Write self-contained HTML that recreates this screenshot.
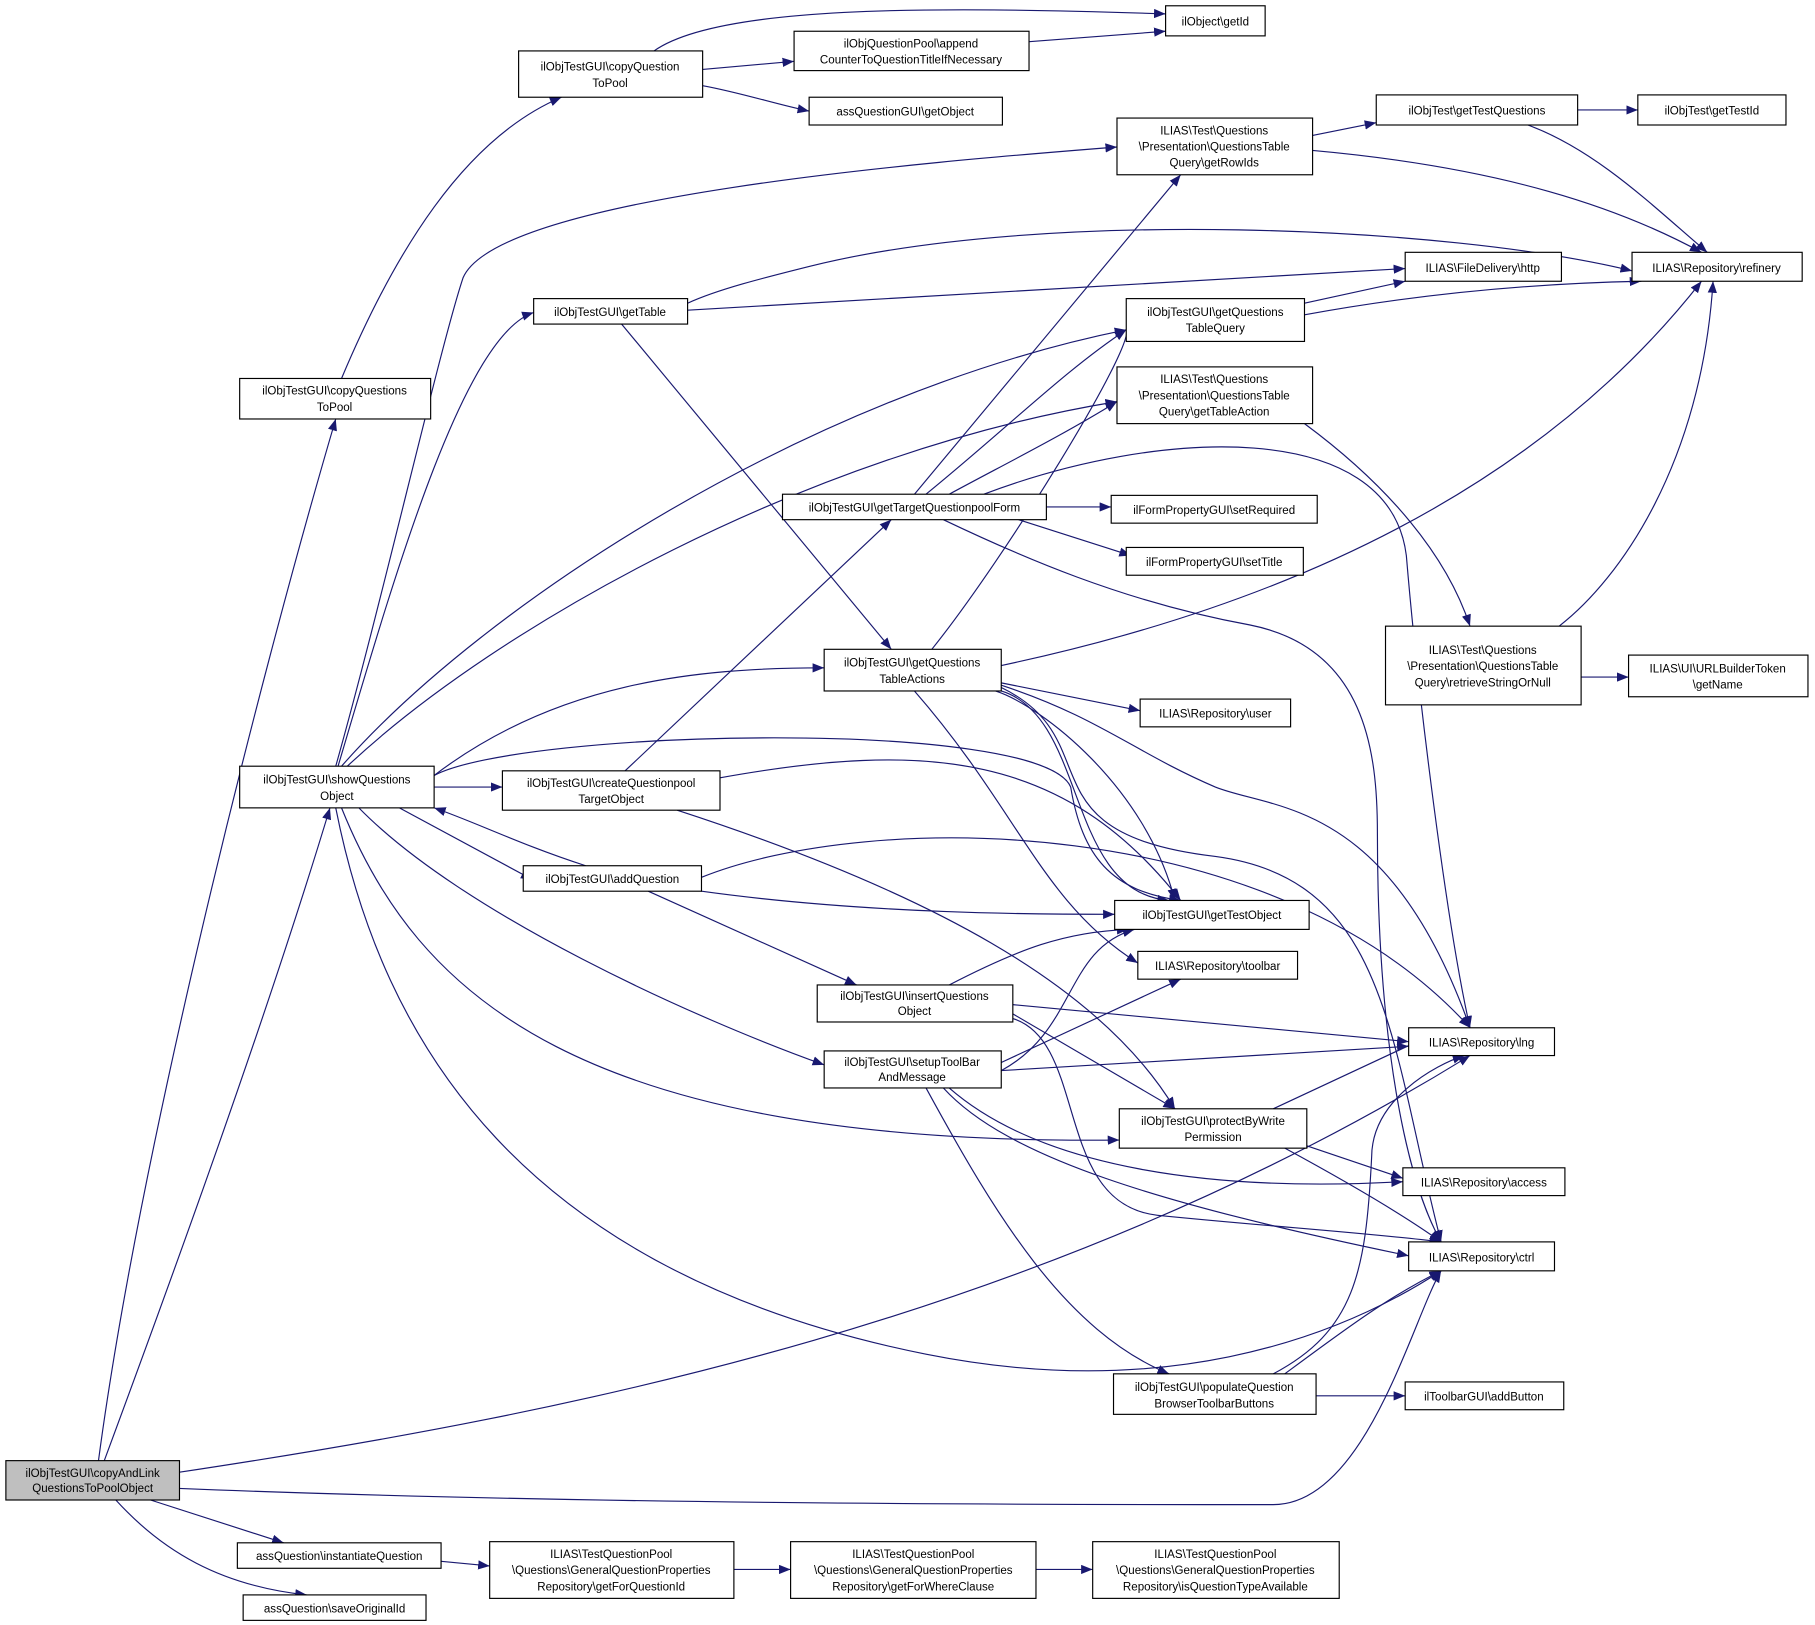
<!DOCTYPE html>
<html><head><meta charset="utf-8"><style>
html,body{margin:0;padding:0;background:#fff;}
svg{display:block;}
text{font-family:"Liberation Sans",sans-serif;font-size:10px;fill:#000;text-anchor:middle;}
rect{fill:#fff;stroke:#000;stroke-width:1;}
path{fill:none;stroke:#191970;stroke-width:1;}
</style></head><body>
<svg width="1815" height="1625" viewBox="0 0 1568 1404" xmlns="http://www.w3.org/2000/svg">
<defs><marker id="a" markerWidth="10" markerHeight="8" refX="10" refY="4" orient="auto" markerUnits="userSpaceOnUse"><polygon points="0,0 10,4 0,8" fill="#191970"/></marker></defs>
<g marker-end="url(#a)">
<path d="M85,1262 C120,1000 220,600 290,362"/>
<path d="M90,1262 C150,1100 230,880 285,698"/>
<path d="M155,1272 C500,1220 900,1140 1270,912"/>
<path d="M155,1286 C500,1300 900,1300 1100,1300 C1180,1300 1220,1140 1245,1098"/>
<path d="M130,1296 L245,1333"/>
<path d="M100,1296 C140,1340 190,1370 265,1378"/>
<path d="M295,327 C340,220 400,120 485,84"/>
<path d="M565,44 C620,5 800,5 1007,12"/>
<path d="M607,60 L686,53"/>
<path d="M607,74 C640,80 670,90 699,96"/>
<path d="M889,36 L1007,27"/>
<path d="M1134,117 L1189,106"/>
<path d="M1134,130 C1300,145 1400,180 1470,218"/>
<path d="M1363,95 L1415,95"/>
<path d="M1320,108 C1380,130 1430,180 1475,218"/>
<path d="M290,662 C330,520 380,300 400,240 C430,170 800,140 965,127"/>
<path d="M292,662 C340,500 400,290 461,270"/>
<path d="M295,662 C420,520 700,340 973,285"/>
<path d="M300,662 C430,540 700,390 965,347"/>
<path d="M375,670 C480,590 600,577 712,577"/>
<path d="M375,670 C450,630 900,620 925,680 C935,740 960,770 1020,778"/>
<path d="M375,680 L434,680"/>
<path d="M345,698 L460,760"/>
<path d="M506,748 C450,730 410,710 375,698"/>
<path d="M310,698 C400,790 600,880 712,920"/>
<path d="M295,698 C360,860 500,990 967,985"/>
<path d="M290,698 C330,900 450,1100 800,1170 C1000,1210 1150,1160 1245,1098"/>
<path d="M594,268 L1214,232"/>
<path d="M594,262 C620,250 660,240 700,230 C900,180 1250,195 1410,234"/>
<path d="M537,280 L770,561"/>
<path d="M1127,262 L1214,243"/>
<path d="M1127,272 C1220,255 1320,245 1418,243"/>
<path d="M1127,366 C1200,420 1250,480 1270,541"/>
<path d="M1347,541 C1400,500 1470,400 1480,243"/>
<path d="M1366,585 L1407,585"/>
<path d="M790,427 L1020,151"/>
<path d="M800,427 C870,370 920,320 973,285"/>
<path d="M820,427 C870,400 920,375 965,347"/>
<path d="M850,427 C1000,370 1200,360 1215,480 C1225,600 1250,800 1270,888"/>
<path d="M904,438 L960,438"/>
<path d="M880,449 L977,480"/>
<path d="M815,449 C880,480 970,520 1080,540 C1180,560 1190,650 1190,720 C1190,900 1215,1020 1245,1073"/>
<path d="M805,561 C870,480 980,300 973,285"/>
<path d="M865,575 C1030,540 1300,460 1470,243"/>
<path d="M865,590 L985,614"/>
<path d="M865,592 C950,620 980,650 1050,680 C1100,700 1200,690 1270,888"/>
<path d="M860,597 C900,610 990,680 1015,778"/>
<path d="M865,597 C940,620 920,770 1010,778"/>
<path d="M865,594 C960,640 880,720 1050,740 C1200,760 1200,900 1245,1073"/>
<path d="M790,597 C880,700 900,780 983,832"/>
<path d="M540,666 L770,449"/>
<path d="M622,672 C800,640 920,650 1020,778"/>
<path d="M585,700 C800,770 950,850 1015,958"/>
<path d="M606,758 C750,700 1100,700 1270,888"/>
<path d="M606,770 C750,790 900,790 963,790"/>
<path d="M560,770 L740,851"/>
<path d="M820,851 C880,820 920,805 975,803"/>
<path d="M875,868 L1217,900"/>
<path d="M875,876 L1015,958"/>
<path d="M875,880 C940,900 910,1040 1000,1050 C1100,1060 1180,1065 1245,1073"/>
<path d="M865,925 C930,890 920,820 980,803"/>
<path d="M865,918 L1020,846"/>
<path d="M865,925 L1217,904"/>
<path d="M820,940 C900,1010 1050,1030 1212,1021"/>
<path d="M815,940 C870,1000 1000,1040 1217,1085"/>
<path d="M800,940 C860,1050 920,1150 1010,1187"/>
<path d="M1100,958 L1250,888"/>
<path d="M1129,990 L1212,1018"/>
<path d="M1110,992 C1180,1030 1220,1055 1245,1073"/>
<path d="M1100,1187 C1170,1150 1180,1100 1185,1000 C1185,950 1240,920 1265,912"/>
<path d="M1110,1187 C1160,1150 1200,1120 1245,1098"/>
<path d="M1137,1206 L1214,1206"/>
<path d="M381,1349 L423,1353"/>
<path d="M634,1356 L683,1356"/>
<path d="M895,1356 L944,1356"/>
</g>
<rect x="5" y="1262" width="150" height="34" style="fill:#bfbfbf"/><text x="80" y="1276">ilObjTestGUI\copyAndLink</text><text x="80" y="1289">QuestionsToPoolObject</text>
<rect x="207" y="327" width="165" height="35"/><text x="289" y="341">ilObjTestGUI\copyQuestions</text><text x="289" y="355">ToPool</text>
<rect x="448" y="44" width="159" height="40"/><text x="527" y="61">ilObjTestGUI\copyQuestion</text><text x="527" y="75">ToPool</text>
<rect x="686" y="27" width="203" height="34"/><text x="787" y="41">ilObjQuestionPool\append</text><text x="787" y="55">CounterToQuestionTitleIfNecessary</text>
<rect x="1007" y="5" width="86" height="26"/><text x="1050" y="22">ilObject\getId</text>
<rect x="699" y="84" width="167" height="24"/><text x="782" y="100">assQuestionGUI\getObject</text>
<rect x="965" y="102" width="169" height="49"/><text x="1049" y="116">ILIAS\Test\Questions</text><text x="1049" y="130">\Presentation\QuestionsTable</text><text x="1049" y="144">Query\getRowIds</text>
<rect x="1189" y="82" width="174" height="26"/><text x="1276" y="99">ilObjTest\getTestQuestions</text>
<rect x="1415" y="82" width="128" height="26"/><text x="1479" y="99">ilObjTest\getTestId</text>
<rect x="1410" y="218" width="147" height="25"/><text x="1483" y="235">ILIAS\Repository\refinery</text>
<rect x="1214" y="218" width="135" height="25"/><text x="1281" y="235">ILIAS\FileDelivery\http</text>
<rect x="973" y="258" width="154" height="37"/><text x="1050" y="273">ilObjTestGUI\getQuestions</text><text x="1050" y="287">TableQuery</text>
<rect x="461" y="258" width="133" height="22"/><text x="527" y="273">ilObjTestGUI\getTable</text>
<rect x="965" y="317" width="169" height="49"/><text x="1049" y="331">ILIAS\Test\Questions</text><text x="1049" y="345">\Presentation\QuestionsTable</text><text x="1049" y="359">Query\getTableAction</text>
<rect x="676" y="427" width="228" height="22"/><text x="790" y="442">ilObjTestGUI\getTargetQuestionpoolForm</text>
<rect x="960" y="428" width="178" height="24"/><text x="1049" y="444">ilFormPropertyGUI\setRequired</text>
<rect x="973" y="473" width="153" height="24"/><text x="1049" y="489">ilFormPropertyGUI\setTitle</text>
<rect x="712" y="561" width="153" height="36"/><text x="788" y="576">ilObjTestGUI\getQuestions</text><text x="788" y="590">TableActions</text>
<rect x="1197" y="541" width="169" height="68"/><text x="1281" y="565">ILIAS\Test\Questions</text><text x="1281" y="579">\Presentation\QuestionsTable</text><text x="1281" y="593">Query\retrieveStringOrNull</text>
<rect x="1407" y="566" width="155" height="36"/><text x="1484" y="581">ILIAS\UI\URLBuilderToken</text><text x="1484" y="595">\getName</text>
<rect x="985" y="604" width="130" height="24"/><text x="1050" y="620">ILIAS\Repository\user</text>
<rect x="207" y="662" width="168" height="36"/><text x="291" y="677">ilObjTestGUI\showQuestions</text><text x="291" y="691">Object</text>
<rect x="434" y="666" width="188" height="34"/><text x="528" y="680">ilObjTestGUI\createQuestionpool</text><text x="528" y="694">TargetObject</text>
<rect x="452" y="748" width="154" height="22"/><text x="529" y="763">ilObjTestGUI\addQuestion</text>
<rect x="963" y="778" width="168" height="25"/><text x="1047" y="794">ilObjTestGUI\getTestObject</text>
<rect x="983" y="822" width="138" height="24"/><text x="1052" y="838">ILIAS\Repository\toolbar</text>
<rect x="706" y="851" width="169" height="32"/><text x="790" y="864">ilObjTestGUI\insertQuestions</text><text x="790" y="877">Object</text>
<rect x="712" y="908" width="153" height="32"/><text x="788" y="921">ilObjTestGUI\setupToolBar</text><text x="788" y="934">AndMessage</text>
<rect x="1217" y="888" width="126" height="24"/><text x="1280" y="904">ILIAS\Repository\lng</text>
<rect x="967" y="958" width="162" height="34"/><text x="1048" y="972">ilObjTestGUI\protectByWrite</text><text x="1048" y="986">Permission</text>
<rect x="1212" y="1009" width="140" height="24"/><text x="1282" y="1025">ILIAS\Repository\access</text>
<rect x="1217" y="1073" width="126" height="25"/><text x="1280" y="1090">ILIAS\Repository\ctrl</text>
<rect x="962" y="1187" width="175" height="35"/><text x="1049" y="1202">ilObjTestGUI\populateQuestion</text><text x="1049" y="1216">BrowserToolbarButtons</text>
<rect x="1214" y="1194" width="137" height="24"/><text x="1282" y="1210">ilToolbarGUI\addButton</text>
<rect x="205" y="1333" width="176" height="22"/><text x="293" y="1348">assQuestion\instantiateQuestion</text>
<rect x="210" y="1378" width="158" height="22"/><text x="289" y="1393">assQuestion\saveOriginalId</text>
<rect x="423" y="1332" width="211" height="49"/><text x="528" y="1346">ILIAS\TestQuestionPool</text><text x="528" y="1360">\Questions\GeneralQuestionProperties</text><text x="528" y="1374">Repository\getForQuestionId</text>
<rect x="683" y="1332" width="212" height="49"/><text x="789" y="1346">ILIAS\TestQuestionPool</text><text x="789" y="1360">\Questions\GeneralQuestionProperties</text><text x="789" y="1374">Repository\getForWhereClause</text>
<rect x="944" y="1332" width="213" height="49"/><text x="1050" y="1346">ILIAS\TestQuestionPool</text><text x="1050" y="1360">\Questions\GeneralQuestionProperties</text><text x="1050" y="1374">Repository\isQuestionTypeAvailable</text>
</svg>
</body></html>
